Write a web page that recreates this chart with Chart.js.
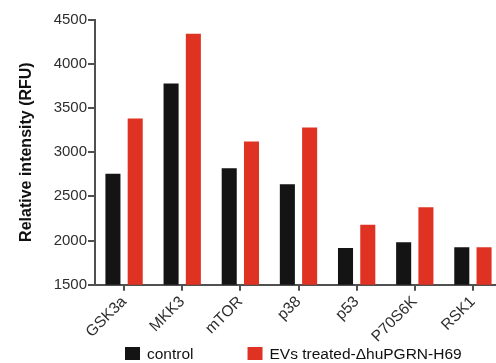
<!DOCTYPE html>
<html>
<head>
<meta charset="utf-8">
<script src="https://cdn.jsdelivr.net/npm/chart.js@4"></script>
<style>
  html, body { margin: 0; padding: 0; background: #fff; overflow: hidden; }
  #wrap { width: 496px; height: 363px; overflow: hidden; }
</style>
</head>
<body>
<div id="wrap"><canvas id="myChart" width="502" height="363"></canvas></div>
<script>
// data
const labels = ['GSK3a', 'MKK3', 'mTOR', 'p38', 'p53', 'P70S6K', 'RSK1'];
const controlValues = [2756, 3775, 2816, 2636, 1914, 1981, 1925];
const treatedValues = [3380, 4339, 3120, 3278, 2177, 2376, 1925];
const yTicks = [1500, 2000, 2500, 3000, 3500, 4000, 4500];

const axisColor = '#505050';
const textColor = '#2e2e2e';
const fontFamily = '"Liberation Sans", Arial, Helvetica, sans-serif';

// legend drawn under the x labels, from the dataset labels/colours
const bottomLegend = {
  id: 'bottomLegend',
  afterDraw(chart) {
    const c = chart.ctx;
    const boxW = 15;
    const boxH = 13;
    const boxTop = 347;
    let x = 125;
    c.save();
    c.font = '15.5px ' + fontFamily;
    c.textBaseline = 'middle';
    c.textAlign = 'left';
    chart.data.datasets.forEach((ds) => {
      c.fillStyle = ds.backgroundColor;
      c.fillRect(x, boxTop, boxW, boxH);
      c.fillStyle = '#111';
      c.fillText(ds.label, x + boxW + 7, boxTop + boxH / 2 + 1);
      x += boxW + 7 + c.measureText(ds.label).width + 54;
    });
    c.restore();
  }
};

const data = {
  labels: labels,
  datasets: [{
    label: 'control',
    backgroundColor: '#141414',
    data: controlValues
  }, {
    label: 'EVs treated-\u0394huPGRN-H69',
    backgroundColor: '#e03222',
    data: treatedValues
  }]
};

const config = {
  type: 'bar',
  data: data,
  options: {
    responsive: false,
    animation: false,
    devicePixelRatio: 1,
    categoryPercentage: 0.766,
    barPercentage: 0.676,
    layout: {
      padding: { top: 19.5, left: 0, right: 0, bottom: 0 }
    },
    plugins: {
      tooltip: { enabled: false },
      legend: { display: false }
    },
    scales: {
      x: {
        offset: true,
        grid: {
          offset: false,
          drawOnChartArea: false,
          color: axisColor,
          lineWidth: 2,
          tickLength: 6
        },
        border: { color: axisColor, width: 2 },
        ticks: {
          color: textColor,
          font: { family: fontFamily, size: 15.5 },
          minRotation: 45,
          maxRotation: 45,
          autoSkip: false,
          padding: 2
        },
        afterFit: (scale) => { scale.height = 78.3; }
      },
      y: {
        min: 1500,
        max: 4500,
        afterBuildTicks: (scale) => { scale.ticks = yTicks.map((v) => ({ value: v })); },
        grid: {
          drawOnChartArea: false,
          color: axisColor,
          lineWidth: 2,
          tickLength: 7
        },
        border: { color: axisColor, width: 2 },
        ticks: {
          color: textColor,
          font: { family: fontFamily, size: 15 },
          padding: 1,
          callback: (value) => String(value)
        },
        title: {
          display: true,
          text: 'Relative intensity (RFU)',
          color: '#111',
          font: { family: fontFamily, size: 16, weight: 'bold' },
          padding: { top: 17, bottom: 0 }
        },
        afterFit: (scale) => { scale.width = 95; }
      }
    }
  },
  plugins: [bottomLegend]
};

const ctx = document.querySelector('#myChart');
const barChart = new Chart(ctx, config);
</script>
</body>
</html>
